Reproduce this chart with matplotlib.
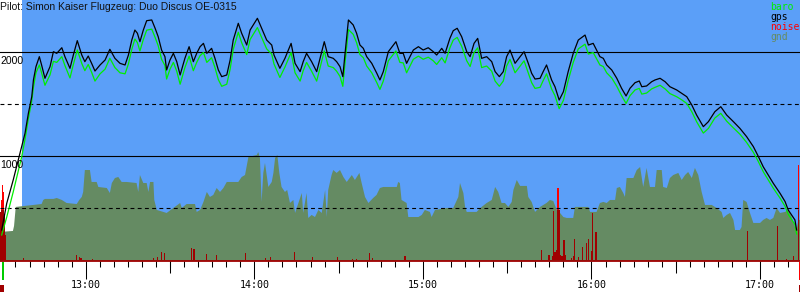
import matplotlib
matplotlib.use("Agg")
import matplotlib.pyplot as plt
from matplotlib.transforms import blended_transform_factory, offset_copy
from matplotlib.patches import Rectangle

# times are minutes after 12:00, heights in metres
TITLE = "Pilot: Simon Kaiser Flugzeug: Duo Discus OE-0315"

gps_time = [
    30.1, 31.9, 34.2, 37.2, 38.4, 39.6, 40.8, 41.4, 42.3, 43.5, 44.3, 45.5,
    47.3, 48.5, 49.7, 51.5, 52.6, 54.4, 55.6, 57.0, 58.6, 59.7, 60.9, 62.1,
    63.3, 65.1, 66.9, 68.6, 70.4, 72.2, 74.0, 75.2, 76.4, 77.5, 78.4, 79.3,
    80.5, 81.7, 83.5, 84.7, 85.8, 87.0, 88.2, 88.8, 90.0, 91.2, 92.4, 93.6,
    95.3, 96.8, 98.3, 99.5, 100.7, 101.9, 103.1, 104.8, 106.0, 107.2, 108.4, 110.2,
    111.4, 112.5, 114.3, 115.5, 117.3, 118.5, 121.1, 122.6, 124.4, 126.2, 127.0, 129.1,
    130.9, 133.1, 134.5, 136.3, 137.4, 138.6, 140.4, 142.2, 143.4, 144.9, 146.3, 148.1,
    149.3, 150.5, 151.5, 152.3, 153.5, 155.2, 156.4, 157.6, 158.8, 160.0, 161.8, 163.6,
    164.7, 165.9, 167.7, 170.4, 171.8, 173.0, 174.2, 176.6, 178.4, 180.1, 181.9, 183.7,
    184.9, 186.7, 187.9, 189.6, 190.8, 192.2, 193.8, 195.6, 196.8, 198.2, 199.5, 200.9,
    202.7, 204.5, 205.7, 207.2, 208.6, 209.8, 211.0, 212.8, 214.6, 216.0, 217.5, 218.7,
    219.9, 221.7, 222.8, 224.0, 225.8, 227.0, 228.5, 230.0, 231.7, 233.5, 235.3, 237.7,
    238.9, 240.6, 241.8, 243.0, 244.2, 245.4, 247.2, 249.0, 250.7, 252.3, 253.7, 255.5,
    257.0, 257.9, 259.6, 261.4, 262.6, 264.4, 266.2, 267.9, 270.3, 272.1, 273.9, 275.7,
    277.4, 279.8, 281.6, 283.9, 286.0, 288.1, 290.5, 292.8, 295.2, 297.6, 299.4, 301.1,
    302.9, 304.7, 307.1, 308.9, 310.0, 311.2, 312.4, 313.0,
]
gps_alt = [
    288, 545, 769, 1090, 1218, 1410, 1570, 1731, 1859, 1955, 1875, 1747,
    1859, 2003, 1987, 2041, 1955, 1843, 1971, 2109, 1971, 1907, 1961, 1891,
    1817, 1875, 1923, 2026, 1939, 1891, 1875, 1971, 2115, 2211, 2180, 2099,
    2211, 2301, 2308, 2228, 2147, 2019, 1955, 1827, 1923, 1987, 1907, 1779,
    1939, 2051, 1907, 1987, 2051, 2083, 1987, 2035, 1939, 1827, 1763, 1779,
    1923, 2115, 2276, 2180, 2067, 2211, 2324, 2228, 2115, 2067, 1971, 1843,
    1939, 2083, 1891, 1811, 1907, 1987, 1907, 1811, 1939, 2099, 1955, 1939,
    1907, 1859, 1763, 1987, 2308, 2260, 2180, 2067, 2035, 1955, 1891, 1795,
    1731, 1811, 2003, 2099, 1987, 1987, 1891, 2019, 2051, 2019, 2041, 2003,
    1971, 2035, 1987, 2131, 2205, 2228, 2147, 2003, 1955, 2083, 2131, 1939,
    1955, 1907, 1811, 1763, 1811, 1955, 2019, 1891, 1955, 2003, 1891, 1795,
    1740, 1747, 1811, 1875, 1731, 1666, 1538, 1618, 1811, 1987, 2115, 2163,
    2067, 2083, 2019, 1955, 1939, 1875, 1827, 1747, 1651, 1577, 1651, 1705,
    1721, 1666, 1673, 1714, 1731, 1747, 1714, 1666, 1635, 1603, 1570, 1490,
    1394, 1282, 1330, 1426, 1474, 1394, 1330, 1266, 1186, 1090, 994, 897,
    817, 737, 641, 561, 481, 433, 385, 288,
]
baro_alt = [
    240, 413, 654, 990, 1160, 1360, 1530, 1660, 1800, 1875, 1800, 1680,
    1780, 1910, 1900, 1955, 1870, 1750, 1880, 2020, 1890, 1820, 1880, 1805,
    1720, 1790, 1835, 1940, 1850, 1800, 1790, 1885, 2025, 2125, 2090, 2010,
    2120, 2210, 2220, 2140, 2060, 1930, 1870, 1740, 1835, 1900, 1815, 1690,
    1850, 1960, 1820, 1900, 1965, 1995, 1900, 1945, 1850, 1735, 1670, 1690,
    1835, 2025, 2190, 2090, 1975, 2120, 2235, 2140, 2030, 1980, 1885, 1755,
    1855, 1995, 1800, 1720, 1820, 1900, 1815, 1720, 1850, 2010, 1865, 1850,
    1815, 1765, 1670, 1900, 2215, 2170, 2090, 1975, 1945, 1865, 1800, 1705,
    1640, 1720, 1915, 2010, 1900, 1895, 1800, 1930, 1960, 1930, 1950, 1915,
    1880, 1945, 1895, 2040, 2115, 2140, 2055, 1915, 1860, 1995, 2040, 1850,
    1865, 1815, 1720, 1670, 1720, 1865, 1930, 1800, 1865, 1915, 1800, 1705,
    1650, 1660, 1725, 1790, 1645, 1580, 1455, 1535, 1725, 1900, 2030, 2075,
    1980, 1995, 1935, 1875, 1860, 1800, 1750, 1670, 1580, 1505, 1580, 1635,
    1650, 1595, 1605, 1645, 1660, 1680, 1645, 1600, 1570, 1540, 1505, 1425,
    1330, 1220, 1265, 1365, 1410, 1335, 1270, 1210, 1130, 1035, 945, 850,
    770, 690, 595, 515, 440, 390, 340, 250,
]

gnd_time = [
    29.5, 34.1, 34.5, 35.1, 44.3, 44.9, 45.5, 48.5, 49.7, 51.5, 53.2, 56.8,
    57.7, 58.6, 59.1, 59.7, 61.5, 62.1, 63.9, 64.5, 67.5, 68.6, 69.3, 70.4,
    71.6, 72.8, 74.6, 78.1, 78.7, 79.3, 80.5, 81.7, 82.3, 82.9, 84.1, 84.4,
    85.3, 87.6, 88.8, 91.2, 93.6, 94.2, 95.9, 98.9, 99.5, 100.7, 101.9, 103.1,
    104.2, 105.4, 106.6, 107.8, 109.0, 110.2, 114.3, 115.5, 116.7, 117.9, 120.9, 121.4,
    122.0, 122.6, 123.2, 123.8, 125.0, 126.2, 126.8, 127.4, 128.2, 128.9, 129.7, 130.9,
    131.7, 132.7, 133.9, 134.5, 135.7, 136.9, 137.4, 138.6, 139.2, 140.4, 141.6, 142.8,
    144.0, 145.2, 145.8, 146.3, 147.5, 148.1, 149.3, 150.5, 151.7, 152.9, 154.7, 155.8,
    157.4, 158.2, 159.4, 160.6, 162.3, 163.5, 164.7, 165.9, 170.7, 171.2, 171.8, 172.4,
    174.2, 174.8, 178.4, 179.6, 180.7, 182.5, 183.1, 184.3, 188.5, 190.8, 192.6, 193.2,
    194.4, 195.0, 195.6, 199.1, 200.9, 202.7, 204.5, 205.7, 206.8, 208.0, 209.2, 210.4,
    211.6, 212.2, 213.4, 214.6, 217.0, 217.5, 218.7, 219.9, 221.7, 224.0, 225.2, 226.4,
    227.6, 228.8, 230.0, 231.2, 233.5, 234.1, 238.9, 239.5, 241.8, 243.0, 244.2, 245.4,
    246.6, 248.4, 249.0, 250.1, 251.3, 251.9, 252.5, 254.9, 256.1, 257.3, 258.4, 259.6,
    260.8, 262.6, 263.2, 265.0, 265.5, 266.8, 267.9, 269.1, 270.9, 272.1, 273.3, 274.4,
    275.7, 276.8, 278.0, 279.2, 280.4, 282.8, 284.5, 286.3, 286.9, 288.1, 289.3, 290.5,
    291.1, 292.8, 293.4, 294.0, 295.2, 296.4, 297.6, 300.0, 301.1, 302.3, 303.5, 304.7,
    305.9, 307.1, 308.9, 310.0, 311.2, 312.4, 313.0, 313.6, 314.2,
]
gnd_alt = [
    269, 279, 327, 510, 538, 577, 587, 587, 596, 577, 548, 538,
    577, 606, 654, 865, 865, 750, 750, 702, 692, 644, 740, 788,
    798, 750, 750, 740, 654, 817, 740, 740, 654, 750, 750, 577,
    481, 462, 452, 500, 548, 500, 538, 538, 462, 481, 558, 654,
    606, 625, 692, 654, 692, 750, 750, 798, 817, 990, 1010, 1038,
    981, 558, 837, 933, 702, 750, 837, 981, 1010, 837, 702, 654,
    673, 548, 577, 452, 548, 644, 452, 644, 404, 433, 413, 481,
    452, 673, 413, 673, 817, 865, 837, 865, 798, 750, 817, 769,
    837, 740, 606, 548, 596, 625, 692, 702, 702, 750, 740, 577,
    548, 413, 413, 433, 481, 462, 413, 481, 500, 500, 606, 740,
    644, 510, 462, 462, 510, 548, 577, 702, 654, 548, 548, 510,
    558, 673, 769, 712, 712, 606, 558, 462, 510, 548, 577, 567,
    481, 452, 413, 404, 404, 510, 510, 462, 462, 548, 558, 548,
    577, 577, 692, 702, 644, 606, 788, 788, 865, 894, 702, 885,
    702, 702, 865, 865, 702, 692, 788, 817, 837, 769, 817, 846,
    788, 885, 817, 654, 529, 529, 500, 462, 404, 433, 452, 385,
    288, 288, 317, 577, 558, 452, 356, 356, 385, 404, 385, 404,
    500, 452, 462, 481, 413, 317, 288, 385, 385,
]

noise_time = [
    29.7, 30.0, 30.4, 30.7, 31.1, 31.5, 37.8, 56.7, 57.8, 58.3, 62.5, 84.1,
    85.6, 87.0, 88.0, 97.7, 98.5, 103.1, 106.6, 116.8, 124.1, 125.8, 134.2, 140.8,
    149.7, 155.0, 156.5, 160.9, 162.1, 173.6, 222.3, 224.9, 226.2, 226.4, 227.0, 227.6,
    228.1, 228.5, 229.0, 229.5, 230.2, 230.6, 233.0, 233.5, 233.9, 235.3, 236.9, 238.3,
    238.9, 240.1, 240.4, 241.6, 295.6, 306.1, 309.5, 311.8, 313.7,
]
noise_val = [
    462, 577, 721, 654, 433, 240, 19, 48, 29, 19, 10, 19,
    29, 77, 67, 115, 106, 58, 48, 67, 19, 29, 77, 29,
    29, 10, 10, 67, 19, 38, 96, 48, 38, 471, 77, 96,
    692, 481, 48, 38, 192, 48, 19, 38, 202, 29, 125, 163,
    202, 87, 452, 269, 279, 327, 10, 38, 913,
]

hour_ticks = [60, 120, 180, 240, 300]
hour_labels = ["13:00", "14:00", "15:00", "16:00", "17:00"]
half_ticks = [90, 150, 210, 270]
minor_ticks = list(range(35, 314, 5))

record_start = 37.3
takeoff_time = 30.4
landing_time = 313.8
t_min, t_max = 29.5, 314.2

BLUE = "#5b9ff8"
GND = "#658b63"
DARK_RED = "#a00000"


def main():
    fig = plt.figure(figsize=(8, 3), dpi=100)
    ax = fig.add_axes([0, 39 / 300, 1, 261 / 300])
    ax.set_xlim(t_min, t_max)
    ax.set_ylim(-10, 2500)
    ax.set_facecolor("white")

    ax.axvspan(record_start, t_max, color=BLUE, lw=0, zorder=0)
    ax.fill_between(gnd_time, -10, gnd_alt, color=GND, lw=0, zorder=1)

    low = [min(v, 480) for v in noise_val]
    ax.bar(noise_time, low, width=0.45, color=DARK_RED, lw=0, zorder=2)
    hi_t = [t for t, v in zip(noise_time, noise_val) if v > 480]
    hi_v = [v - 480 for v in noise_val if v > 480]
    ax.bar(hi_t, hi_v, bottom=480, width=0.45, color="#ff0000", lw=0, zorder=2)

    for level in (2000, 1000):
        ax.axhline(level, color="black", lw=0.8, zorder=3)
    for level in (1500, 500):
        ax.axhline(level, color="black", lw=0.8, ls=(0, (3.5, 3)), zorder=3)

    ax.plot(gps_time, baro_alt, color="#00ee00", lw=0.9, zorder=4)
    ax.plot(gps_time, gps_alt, color="black", lw=0.9, zorder=5)

    for level in (2000, 1000):
        ax.text(t_min, level - 35, str(level), ha="left", va="top",
                family="Liberation Sans", fontsize=7.5, zorder=6)

    title_tr = offset_copy(ax.transAxes, fig=fig, x=0, y=-2, units="dots")
    ax.text(0, 1, TITLE, transform=title_tr, ha="left", va="top",
            family="Liberation Sans", fontsize=7.5, color="#111111", zorder=6)

    legend = [("baro", "#00ee00"), ("gps", "black"), ("noise", "#ff0000"), ("gnd", GND)]
    for i, (name, col) in enumerate(legend):
        fig.text(770 / 800, 1 - (2 + 10 * i) / 300, name, color=col,
                 family="DejaVu Sans Mono", fontsize=7, ha="left", va="top")

    for side in ("top", "left", "right"):
        ax.spines[side].set_visible(False)
    ax.spines["bottom"].set_color(DARK_RED)
    ax.spines["bottom"].set_linewidth(1.3)
    ax.set_yticks([])

    ax.set_xticks(hour_ticks, hour_labels)
    ax.set_xticks(minor_ticks, minor=True)
    ax.tick_params(axis="x", which="major", length=13, width=0.75, pad=1,
                   labelsize=7.2)
    ax.tick_params(axis="x", which="minor", length=4.3, width=0.75)
    for lab in ax.get_xticklabels():
        lab.set_family("DejaVu Sans Mono")

    sec = ax.secondary_xaxis("bottom")
    sec.set_xticks(half_ticks)
    sec.tick_params(length=8.6, width=0.75, labelbottom=False)
    sec.spines["bottom"].set_visible(False)

    # takeoff / landing markers below the axis
    tr = blended_transform_factory(ax.transData, ax.transAxes)
    px = 1 / 261
    ax.add_patch(Rectangle((takeoff_time - 0.3, -19 * px), 1.0, 18 * px,
                           transform=tr, color="#00cc00", clip_on=False, lw=0))
    ax.add_patch(Rectangle((t_min, -31 * px), 1.4, 7 * px,
                           transform=tr, color=DARK_RED, clip_on=False, lw=0))
    ax.add_patch(Rectangle((landing_time, -19 * px), 0.6, 18 * px,
                           transform=tr, color="#ff0000", clip_on=False, lw=0))
    ax.add_patch(Rectangle((landing_time, -31 * px), 0.6, 7 * px,
                           transform=tr, color=DARK_RED, clip_on=False, lw=0))

    fig.savefig("out.png", dpi=100)
    plt.close(fig)


if __name__ == "__main__":
    main()
